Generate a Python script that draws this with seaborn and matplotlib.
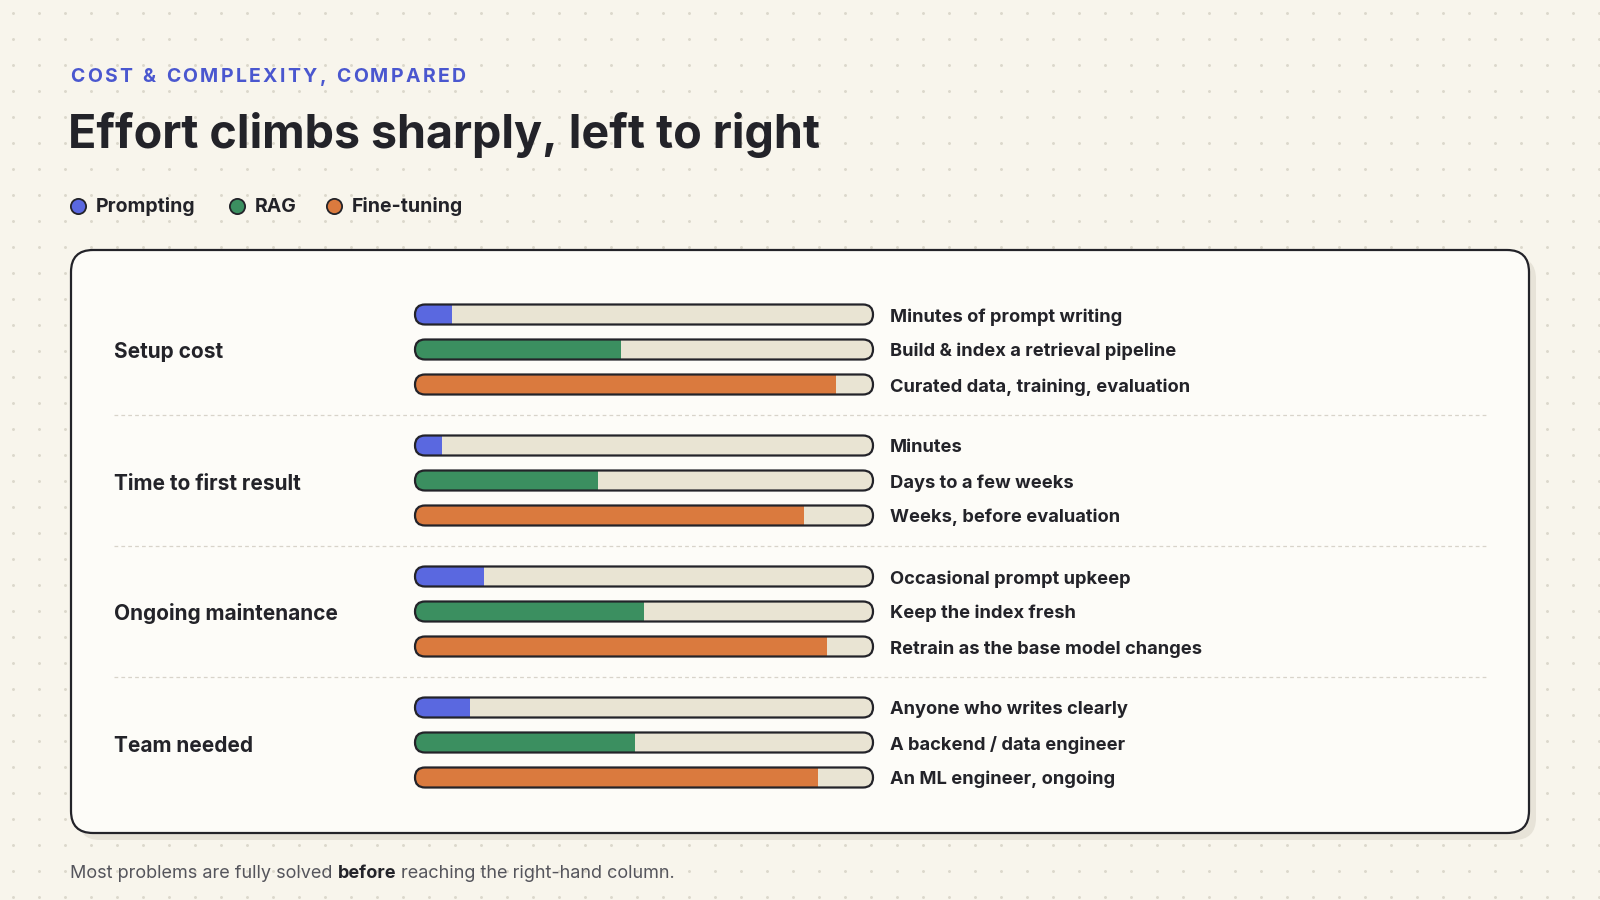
import numpy as np
import pandas as pd
import matplotlib
matplotlib.use("Agg")
import matplotlib.pyplot as plt
import matplotlib.transforms as mtransforms
from matplotlib.patches import FancyBboxPatch
import seaborn as sns

# ---------------- data ----------------
metrics = ["Setup cost", "Time to first result", "Ongoing maintenance", "Team needed"]
approaches = ["Prompting", "RAG", "Fine-tuning"]
prompting = [0.08, 0.06, 0.15, 0.12]
rag = [0.45, 0.40, 0.50, 0.48]
finetuning = [0.92, 0.85, 0.90, 0.88]
notes_prompting = ["Minutes of prompt writing", "Minutes",
                   "Occasional prompt upkeep", "Anyone who writes clearly"]
notes_rag = ["Build & index a retrieval pipeline", "Days to a few weeks",
             "Keep the index fresh", "A backend / data engineer"]
notes_finetuning = ["Curated data, training, evaluation", "Weeks, before evaluation",
                    "Retrain as the base model changes", "An ML engineer, ongoing"]
eyebrow = "COST & COMPLEXITY, COMPARED"
title = "Effort climbs sharply, left to right"
footer_parts = ["Most problems are fully solved", "before", "reaching the right-hand column."]

# ---------------- style ----------------
W, H = 1600, 900
BG = "#f8f5ec"
DOT = "#dcd8cc"
CARD = "#fdfcf8"
SHADOW = "#e7e3d8"
INK = "#232329"
MUTED = "#55555c"
BLUE_TXT = "#4a57cf"
TRACK = "#e9e4d3"
SEP = "#d8d4ca"
palette = {"Prompting": "#5a68e0", "RAG": "#3b8f60", "Fine-tuning": "#da7a3e"}
FONT = "Inter"

sns.set_theme(style="white")
plt.rcParams["font.family"] = [FONT, "DejaVu Sans"]

series_vals = {"Prompting": prompting, "RAG": rag, "Fine-tuning": finetuning}
series_notes = {"Prompting": notes_prompting, "RAG": notes_rag, "Fine-tuning": notes_finetuning}

# layout (pixels, top-left origin)
ROW0, GROUP_STEP, ROW_STEP, BAR_H = 314.5, 131.0, 35.0, 20.0
TRACK_X0, TRACK_W = 415, 458

rows = []
for g, m in enumerate(metrics):
    for s, a in enumerate(approaches):
        rows.append(dict(metric=m, approach=a, value=series_vals[a][g],
                         note=series_notes[a][g], track=1.0,
                         ypos=ROW0 + g * GROUP_STEP + s * ROW_STEP))
df = pd.DataFrame(rows)

fig = plt.figure(figsize=(W / 100, H / 100), dpi=100, facecolor=BG)
pix = mtransforms.Affine2D().scale(1 / W, -1 / H).translate(0, 1) + fig.transFigure

# background axes in pixel coordinates
axb = fig.add_axes([0, 0, 1, 1])
axb.set_xlim(0, W)
axb.set_ylim(H, 0)
axb.axis("off")
axb.set_facecolor(BG)
gx, gy = np.meshgrid(np.arange(13, W, 26), np.arange(13, H, 26))
axb.scatter(gx.ravel(), gy.ravel(), s=4.5, color=DOT, linewidths=0, zorder=0)

# card + shadow
CX0, CY0, CX1, CY1 = 71, 250, 1529, 833
axb.add_patch(FancyBboxPatch((CX0 + 7, CY0 + 7), CX1 - CX0, CY1 - CY0,
                             boxstyle="round,pad=0,rounding_size=22",
                             facecolor=SHADOW, edgecolor="none", zorder=1))
axb.add_patch(FancyBboxPatch((CX0, CY0), CX1 - CX0, CY1 - CY0,
                             boxstyle="round,pad=0,rounding_size=22",
                             facecolor=CARD, edgecolor=INK, linewidth=1.6, zorder=2))

# separators between groups
for g in range(1, len(metrics)):
    ysep = ROW0 + g * GROUP_STEP - (GROUP_STEP - 2 * ROW_STEP) / 2
    axb.plot([114, 1486], [ysep, ysep], color=SEP, lw=0.9, ls=(0, (3, 2.5)), zorder=3)

renderer = fig.canvas.get_renderer()


def text_width(t):
    return t.get_window_extent(renderer=renderer).width


def tracked(x, y, s, tracking, **kw):
    size = kw.get("fontsize", 12)
    for ch in s:
        if ch == " ":
            x += 0.28 * size * 100 / 72 + tracking
            continue
        t = axb.text(x, y, ch, **kw)
        x += text_width(t) + tracking


# header
tracked(70, 81.5, eyebrow, 2.4, fontsize=14, fontweight="bold", color=BLUE_TXT,
        va="baseline", ha="left", zorder=4)
axb.text(68, 148, title, fontsize=33.6, fontweight="bold", color=INK,
         va="baseline", ha="left", zorder=4)

# legend
leg_x = [78, 237, 334]
for a, lx in zip(approaches, leg_x):
    axb.scatter([lx], [206], s=120, color=palette[a], edgecolors=INK, linewidths=1.3, zorder=4)
    axb.text(lx + 18, 212, a, fontsize=14, fontweight="bold", color=INK,
             va="baseline", ha="left", zorder=4)

# category labels and notes
for g, m in enumerate(metrics):
    axb.text(114, ROW0 + g * GROUP_STEP + ROW_STEP + 9, m, fontsize=15, fontweight="bold",
             color=INK, va="baseline", ha="left", zorder=4)
for _, r in df.iterrows():
    axb.text(890, r["ypos"] + 7, r["note"], fontsize=13.2, fontweight="bold", color=INK,
             va="baseline", ha="left", zorder=4)

# footer with bold word
fx, fy = 70, 877.5
fsize = 13
for i, part in enumerate(footer_parts):
    bold = i == 1
    t = axb.text(fx, fy, part, fontsize=fsize, fontweight="bold" if bold else "normal",
                 color=INK if bold else MUTED, va="baseline", ha="left", zorder=4)
    fx += text_width(t) + 0.28 * fsize * 100 / 72

# ---------------- bars ----------------
ax = fig.add_axes([TRACK_X0 / W, 0, TRACK_W / W, 1])
ax.set_facecolor("none")
sns.barplot(data=df, x="track", y="ypos", orient="y", native_scale=True,
            color=TRACK, saturation=1, width=BAR_H / ROW_STEP, errorbar=None,
            linewidth=0, ax=ax)
n_track = len(ax.patches)
sns.barplot(data=df, x="value", y="ypos", hue="approach", hue_order=approaches,
            palette=palette, orient="y", native_scale=True, dodge=False, saturation=1,
            width=BAR_H / ROW_STEP, errorbar=None, linewidth=0, legend=False, ax=ax)
ax.set_xlim(0, 1)
ax.set_ylim(H, 0)
ax.axis("off")

track_rects = list(ax.patches[:n_track])
fill_rects = list(ax.patches[n_track:])
to_pix = ax.transData + pix.inverted()

for tr in track_rects:
    x0, y0 = tr.get_x(), tr.get_y()
    (px0, py0), (px1, py1) = to_pix.transform([(x0, y0), (x0 + tr.get_width(), y0 + tr.get_height())])
    left, right = min(px0, px1), max(px0, px1)
    top, bot = min(py0, py1), max(py0, py1)
    h = bot - top
    cap = FancyBboxPatch((left, top), right - left, h,
                         boxstyle=f"round,pad=0,rounding_size={h / 2}",
                         transform=pix, facecolor="none", edgecolor=INK,
                         linewidth=1.6, zorder=5, clip_on=False)
    ax.add_patch(cap)
    tr.set_clip_path(cap)
    yc = y0 + tr.get_height() / 2
    for fr in fill_rects:
        if abs(fr.get_y() + fr.get_height() / 2 - yc) < 1:
            fr.set_clip_path(cap)
            fr.set_zorder(3)

ax.set_xlim(0, 1)
ax.set_ylim(H, 0)

fig.savefig("out.png", dpi=100, facecolor=BG)
